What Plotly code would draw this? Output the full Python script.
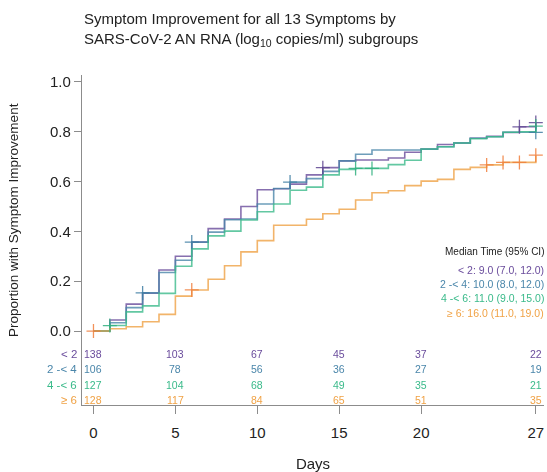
import plotly.graph_objects as go

# ---------------- data ----------------
days = list(range(28))

prop_lt2 = [0.000, 0.044, 0.108, 0.152, 0.245, 0.300, 0.357, 0.411, 0.450, 0.500,
            0.567, 0.571, 0.590, 0.627, 0.656, 0.683, 0.687, 0.687, 0.695, 0.718,
            0.731, 0.749, 0.755, 0.774, 0.782, 0.797, 0.820, 0.837]
prop_2to4 = [0.000, 0.033, 0.094, 0.153, 0.235, 0.284, 0.357, 0.397, 0.447, 0.450,
             0.510, 0.572, 0.598, 0.612, 0.641, 0.683, 0.710, 0.727, 0.727, 0.727,
             0.730, 0.740, 0.755, 0.774, 0.780, 0.798, 0.798, 0.798]
prop_4to6 = [0.000, 0.022, 0.077, 0.101, 0.151, 0.260, 0.330, 0.382, 0.401, 0.446,
             0.479, 0.510, 0.565, 0.578, 0.627, 0.649, 0.653, 0.653, 0.668, 0.686,
             0.731, 0.740, 0.755, 0.772, 0.780, 0.798, 0.800, 0.823]
prop_ge6 = [0.000, 0.009, 0.017, 0.037, 0.067, 0.140, 0.165, 0.208, 0.262, 0.318,
            0.363, 0.425, 0.425, 0.449, 0.471, 0.489, 0.526, 0.555, 0.563, 0.584,
            0.602, 0.609, 0.649, 0.657, 0.667, 0.677, 0.677, 0.706]

censor_lt2 = [14, 26, 27]
censor_2to4 = [3, 6, 12, 27]
censor_4to6 = [1, 16, 17, 27]
censor_ge6 = [0, 6, 24, 25, 26, 27]

group_labels = ["< 2", "2 -< 4", "4 -< 6", "\u2265 6"]
median_labels = ["< 2: 9.0 (7.0, 12.0)", "2 -< 4: 10.0 (8.0, 12.0)",
                 "4 -< 6: 11.0 (9.0, 15.0)", "\u2265 6: 16.0 (11.0, 19.0)"]

risk_days = [0, 5, 10, 15, 20, 27]
risk_lt2 = [138, 103, 67, 45, 37, 22]
risk_2to4 = [106, 78, 56, 36, 27, 19]
risk_4to6 = [127, 104, 68, 49, 35, 21]
risk_ge6 = [128, 117, 84, 65, 51, 35]

x_ticks = [0, 5, 10, 15, 20, 27]
y_ticks = [0.0, 0.2, 0.4, 0.6, 0.8, 1.0]

# ---------------- style ----------------
FONT = "Liberation Sans, Arial, sans-serif"
line_colors = ["#6a4c9c", "#4a86aa", "#3dbb8c", "#f0a245"]
mark_colors = ["#5e4591", "#3f7ea3", "#31b07f", "#f07f3c"]
text_colors = ["#6a4c9c", "#4a86aa", "#3aba8a", "#f0a245"]

series = [prop_lt2, prop_2to4, prop_4to6, prop_ge6]
censors = [censor_lt2, censor_2to4, censor_4to6, censor_ge6]
risks = [risk_lt2, risk_2to4, risk_4to6, risk_ge6]

fig = go.Figure()

for vals, col in zip(series, line_colors):
    fig.add_trace(go.Scatter(x=days, y=vals, mode="lines", line=dict(color=col, width=1.6, shape="hv"),
                             opacity=0.8, showlegend=False, hoverinfo="skip"))

for vals, cens, col in zip(series, censors, mark_colors):
    fig.add_trace(go.Scatter(x=cens, y=[vals[d] for d in cens], mode="markers",
                             marker=dict(symbol="cross-thin", size=10, line=dict(color=col, width=1.3)),
                             opacity=0.85, showlegend=False, hoverinfo="skip"))

annotations = []
row_y = [-0.092, -0.153, -0.215, -0.276]
for lab, r, ry, col in zip(group_labels, risks, row_y, text_colors):
    annotations.append(dict(x=0, xref="paper", y=ry, yref="y", text=lab, showarrow=False,
                            xanchor="right", yanchor="middle", xshift=-3,
                            font=dict(family=FONT, size=11.5, color=col)))
    for d, n in zip(risk_days, r):
        annotations.append(dict(x=d, xref="x", y=ry, yref="y", text=str(n), showarrow=False,
                                xanchor="center", yanchor="middle",
                                font=dict(family=FONT, size=10.5, color=col)))

annotations.append(dict(x=1, xref="paper", y=0.318, yref="y", text="Median Time (95% CI)",
                        showarrow=False, xanchor="right", yanchor="middle", xshift=2,
                        font=dict(family=FONT, size=10, color="#222222")))
med_y = [0.246, 0.189, 0.132, 0.072]
for lab, my, col in zip(median_labels, med_y, text_colors):
    annotations.append(dict(x=1, xref="paper", y=my, yref="y", text=lab, showarrow=False,
                            xanchor="right", yanchor="middle", xshift=2,
                            font=dict(family=FONT, size=10.5, color=col)))

annotations.append(dict(x=0, xref="paper", y=0.446, yref="y", text="Proportion with Symptom Improvement",
                        textangle=-90, showarrow=False, xanchor="center", yanchor="middle", xshift=-68,
                        font=dict(family=FONT, size=13.5, color="#222222")))

annotations.append(dict(x=0, xref="paper", y=1, yref="paper", xanchor="left", yanchor="top",
                        xshift=0, yshift=67, align="left", showarrow=False,
                        text="Symptom Improvement for all 13 Symptoms by<br>SARS-CoV-2 AN RNA (log<sub>10</sub> copies/ml) subgroups",
                        font=dict(family=FONT, size=15, color="#222222")))

fig.update_layout(
    width=547, height=472,
    margin=dict(l=82, r=3, t=75, b=67, autoexpand=False),
    paper_bgcolor="white", plot_bgcolor="white",
    font=dict(family=FONT, color="#222222"),
    annotations=annotations,
    showlegend=False,
)
fig.update_xaxes(range=[-0.70, 27.50], tickvals=x_ticks, ticktext=[str(v) for v in x_ticks],
                 showgrid=False, zeroline=False, showline=True, linecolor="#8c8c8c", linewidth=1.2,
                 ticks="outside", ticklen=8, tickcolor="#8c8c8c", tickwidth=1.2,
                 ticklabelstandoff=6,
                 tickfont=dict(family=FONT, size=15, color="#222222"),
                 title=dict(text="Days", font=dict(family=FONT, size=15, color="#222222"), standoff=18))
fig.update_yaxes(range=[-0.297, 1.028], tickvals=y_ticks, ticktext=["%.1f" % v for v in y_ticks],
                 showgrid=False, zeroline=False, showline=True, linecolor="#8c8c8c", linewidth=1.2,
                 ticks="outside", ticklen=7, tickcolor="#8c8c8c", tickwidth=1.2,
                 tickfont=dict(family=FONT, size=15, color="#222222"))

fig.write_html("out.html", config={"displayModeBar": False},
               post_script="document.body.style.margin='0';")
